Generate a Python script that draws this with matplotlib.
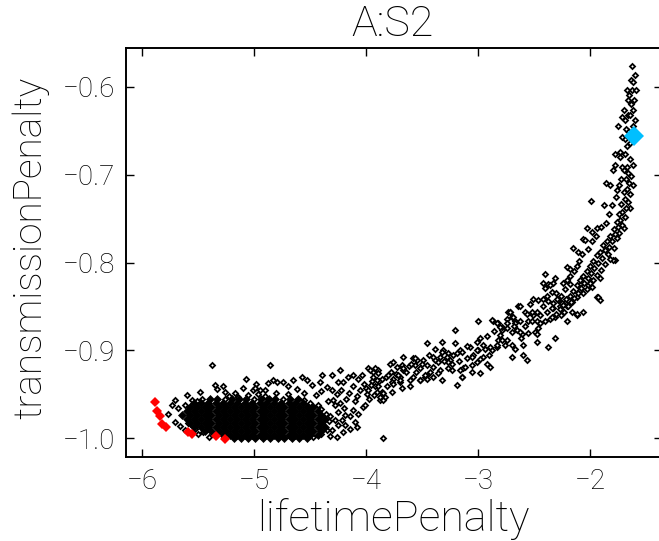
import matplotlib
matplotlib.use('Agg')
import matplotlib.pyplot as plt

plt.rcParams['font.family'] = ['Roboto', 'DejaVu Sans']
plt.rcParams['font.weight'] = 'light'

# tick positions / labels
xticks = [-6, -5, -4, -3, -2]
xtick_labels = ['\u22126', '\u22125', '\u22124', '\u22123', '\u22122']
yticks = [-1.0, -0.9, -0.8, -0.7, -0.6]
ytick_labels = ['\u22121.0', '\u22120.9', '\u22120.8', '\u22120.7', '\u22120.6']

# dense core of the cloud, one row per y level
core_rows = [
    (-0.9555, [-5.39, -5.33, -5.20, -5.13, -5.07, -4.94, -4.87, -4.81, -4.68, -4.61]),
    (-0.9600, [-5.54, -5.47, -5.41, -5.34, -5.28, -5.21, -5.15, -5.08, -5.02, -4.95, -4.89, -4.82, -4.76, -4.69, -4.63, -4.56]),
    (-0.9645, [-5.57, -5.51, -5.44, -5.38, -5.31, -5.25, -5.18, -5.12, -5.05, -4.99, -4.92, -4.86, -4.79, -4.73, -4.66, -4.60, -4.53, -4.47]),
    (-0.9690, [-5.60, -5.54, -5.47, -5.41, -5.34, -5.28, -5.21, -5.15, -5.08, -5.02, -4.95, -4.89, -4.82, -4.76, -4.69, -4.63, -4.56, -4.50, -4.43]),
    (-0.9735, [-5.64, -5.57, -5.51, -5.44, -5.38, -5.31, -5.25, -5.18, -5.12, -5.05, -4.99, -4.92, -4.86, -4.79, -4.73, -4.66, -4.60, -4.53, -4.47, -4.40]),
    (-0.9780, [-5.60, -5.54, -5.47, -5.41, -5.34, -5.28, -5.21, -5.15, -5.08, -5.02, -4.95, -4.89, -4.82, -4.76, -4.69, -4.63, -4.56, -4.50, -4.43, -4.37]),
    (-0.9825, [-5.57, -5.51, -5.44, -5.38, -5.31, -5.25, -5.18, -5.12, -5.05, -4.99, -4.92, -4.86, -4.79, -4.73, -4.66, -4.60, -4.53, -4.47, -4.40]),
    (-0.9870, [-5.54, -5.47, -5.41, -5.34, -5.28, -5.21, -5.15, -5.08, -5.02, -4.95, -4.89, -4.82, -4.76, -4.69, -4.63, -4.56, -4.50, -4.43, -4.37]),
    (-0.9915, [-5.44, -5.38, -5.31, -5.25, -5.18, -5.12, -5.05, -4.99, -4.92, -4.86, -4.79, -4.73, -4.66, -4.60, -4.53, -4.47, -4.40]),
    (-0.9960, [-5.34, -5.28, -5.21, -5.15, -5.08, -5.02, -4.95, -4.89, -4.82, -4.76, -4.69, -4.63, -4.56, -4.50, -4.43]),
    (-0.9995, [-5.18, -5.12, -5.05, -4.99, -4.92, -4.86, -4.79, -4.73, -4.66, -4.60, -4.53]),
]

# sparse points around the core
cloud_low = [
    (-5.765, -0.972), (-5.735, -0.962), (-5.705, -0.956), (-5.705, -0.981), (-5.676, -0.966),
    (-5.601, -0.951), (-5.556, -0.956), (-5.512, -0.958), (-5.482, -0.947), (-5.378, -0.917),
    (-5.348, -0.939), (-5.330, -0.944), (-5.259, -0.947), (-5.170, -0.949), (-5.096, -0.943),
    (-5.074, -0.932), (-5.006, -0.945), (-5.408, -0.960), (-5.587, -0.983), (-5.527, -0.989),
    (-5.453, -0.993), (-5.220, -0.952), (-5.140, -0.953), (-5.050, -0.951), (-4.960, -0.950),
    (-4.900, -0.952), (-4.800, -0.948), (-4.700, -0.950), (-4.620, -0.944), (-4.550, -0.948),
    (-4.450, -0.951), (-4.700, -0.940), (-5.280, -0.940), (-4.980, -0.938),
    (-5.46, -0.955), (-5.26, -0.955), (-5.00, -0.955), (-4.74, -0.955), (-4.55, -0.956),
    (-4.50, -0.960), (-4.43, -0.962), (-4.40, -0.967), (-4.36, -0.972), (-5.62, -0.962),
    (-5.66, -0.986), (-5.62, -0.990), (-5.50, -0.995), (-5.40, -0.998), (-4.47, -0.999),
    (-4.40, -0.995), (-4.35, -0.990), (-4.33, -0.980),
    (-4.857, -0.917), (-4.991, -0.943), (-4.946, -0.945), (-4.902, -0.945), (-4.872, -0.937),
    (-4.827, -0.934), (-4.798, -0.936), (-4.738, -0.936), (-4.649, -0.934), (-4.574, -0.930),
    (-4.530, -0.934), (-4.485, -0.939), (-4.411, -0.936), (-4.396, -0.928), (-4.307, -0.928),
    (-4.232, -0.922), (-4.247, -0.936), (-4.202, -0.936), (-4.158, -0.930), (-4.113, -0.928),
    (-4.068, -0.932), (-4.039, -0.928), (-3.979, -0.920), (-3.935, -0.924), (-3.890, -0.922),
    (-4.336, -0.958), (-4.292, -0.956), (-4.232, -0.960), (-4.247, -0.970), (-4.321, -0.975),
    (-4.277, -0.979), (-4.217, -0.979), (-4.188, -0.974), (-4.143, -0.975), (-4.113, -0.968),
    (-4.068, -0.972), (-4.024, -0.964), (-4.009, -0.962), (-4.247, -0.985), (-4.188, -0.985),
    (-4.202, -0.993), (-4.143, -0.989), (-4.098, -0.981), (-4.083, -0.987), (-4.300, -0.990),
    (-4.320, -0.997), (-4.260, -0.998), (-3.845, -1.000),
    (-4.30, -0.945), (-4.26, -0.950), (-4.22, -0.945), (-4.18, -0.955), (-4.15, -0.948),
    (-4.12, -0.940), (-4.08, -0.952), (-4.05, -0.945), (-4.02, -0.938), (-3.99, -0.950),
    (-4.35, -0.942), (-4.40, -0.946), (-4.28, -0.962), (-4.20, -0.966), (-4.10, -0.958),
    (-4.00, -0.943),
]

cloud_mid = [
    (-3.950, -0.935), (-3.920, -0.940), (-3.980, -0.945), (-3.930, -0.951), (-3.900, -0.947),
    (-3.970, -0.955), (-3.880, -0.935), (-3.820, -0.930), (-3.780, -0.924), (-3.730, -0.927),
    (-3.700, -0.930), (-3.640, -0.925), (-3.620, -0.918),
    (-3.964, -0.922), (-3.920, -0.920), (-3.890, -0.926), (-3.935, -0.930), (-3.905, -0.934),
    (-3.860, -0.932), (-3.955, -0.939), (-3.890, -0.941), (-3.860, -0.947), (-3.830, -0.953),
    (-3.875, -0.956), (-3.845, -0.956), (-3.786, -0.915), (-3.756, -0.913), (-3.726, -0.919),
    (-3.681, -0.917), (-3.667, -0.922), (-3.711, -0.928), (-3.756, -0.932), (-3.801, -0.928),
    (-3.771, -0.936), (-3.696, -0.936), (-3.681, -0.943), (-3.607, -0.941), (-3.771, -0.947),
    (-3.667, -0.907), (-3.578, -0.909), (-3.562, -0.917), (-3.518, -0.920), (-3.548, -0.911),
    (-3.488, -0.911), (-3.473, -0.930), (-3.518, -0.934), (-3.458, -0.928), (-3.429, -0.924),
    (-3.400, -0.919), (-3.384, -0.911), (-3.339, -0.907), (-3.324, -0.890), (-3.310, -0.900),
    (-3.265, -0.903), (-3.250, -0.911), (-3.205, -0.892), (-3.190, -0.903), (-3.161, -0.900),
    (-3.235, -0.922), (-3.190, -0.939), (-3.146, -0.930), (-3.131, -0.920), (-3.101, -0.909),
    (-3.056, -0.917), (-3.012, -0.913), (-2.997, -0.900), (-2.982, -0.886), (-2.938, -0.898),
    (-2.923, -0.884), (-2.878, -0.900), (-2.833, -0.896), (-2.818, -0.888), (-2.789, -0.877),
    (-2.863, -0.866), (-2.818, -0.869), (-2.744, -0.864), (-2.729, -0.856), (-2.759, -0.894),
    (-2.997, -0.867), (-3.205, -0.877), (-3.458, -0.892),
    (-3.324, -0.902), (-3.280, -0.907), (-3.265, -0.913), (-3.235, -0.915), (-3.400, -0.907),
    (-3.354, -0.913), (-3.339, -0.922), (-3.265, -0.920), (-3.354, -0.926), (-3.400, -0.930),
    (-3.324, -0.934), (-3.458, -0.932), (-3.518, -0.934), (-3.473, -0.928), (-3.578, -0.930),
    (-3.607, -0.934), (-3.696, -0.934), (-3.756, -0.938), (-3.815, -0.941), (-3.845, -0.949),
    (-3.875, -0.953), (-3.667, -0.920), (-3.562, -0.909), (-3.458, -0.917),
    (-3.146, -0.902), (-3.071, -0.896), (-3.012, -0.900), (-3.042, -0.905), (-2.953, -0.907),
    (-2.923, -0.915), (-2.893, -0.919), (-2.982, -0.926), (-3.056, -0.924), (-3.116, -0.919),
    (-3.161, -0.922), (-3.146, -0.930), (-3.012, -0.890), (-2.953, -0.894), (-2.893, -0.896),
    (-2.833, -0.894), (-2.789, -0.888), (-2.744, -0.888), (-2.699, -0.894), (-2.670, -0.898),
    (-2.595, -0.894), (-2.595, -0.905), (-2.565, -0.911), (-2.699, -0.907),
    (-3.60, -0.915), (-3.55, -0.925), (-3.50, -0.915), (-3.44, -0.905), (-3.38, -0.898),
    (-3.30, -0.912), (-3.22, -0.905), (-3.17, -0.912), (-3.10, -0.895), (-3.05, -0.907),
    (-2.98, -0.910), (-2.90, -0.905),
]

cloud_high = [
    (-2.878, -0.865), (-2.833, -0.869), (-2.789, -0.873), (-2.714, -0.856), (-2.699, -0.862),
    (-2.670, -0.867), (-2.625, -0.867), (-2.551, -0.866), (-2.521, -0.867), (-2.476, -0.866),
    (-2.446, -0.869), (-2.402, -0.867), (-2.357, -0.864), (-2.313, -0.862),
    (-2.699, -0.879), (-2.655, -0.877), (-2.610, -0.881), (-2.491, -0.879), (-2.476, -0.890),
    (-2.372, -0.896), (-2.313, -0.886), (-2.804, -0.873), (-2.744, -0.869), (-2.670, -0.869),
    (-2.625, -0.879), (-2.476, -0.881), (-2.640, -0.850), (-2.580, -0.856), (-2.536, -0.847),
    (-2.476, -0.856), (-2.446, -0.860), (-2.387, -0.856), (-2.327, -0.852), (-2.268, -0.850),
    (-2.208, -0.867), (-2.119, -0.860), (-2.060, -0.856), (-2.625, -0.850), (-2.714, -0.856),
    (-2.685, -0.862), (-2.565, -0.858), (-2.506, -0.860), (-2.164, -0.856), (-2.119, -0.858),
    (-2.506, -0.842), (-2.460, -0.843), (-2.417, -0.842), (-2.372, -0.844), (-2.327, -0.846),
    (-2.283, -0.843), (-2.223, -0.846), (-2.402, -0.829), (-2.342, -0.834), (-2.298, -0.841),
    (-2.253, -0.846), (-2.208, -0.850), (-2.164, -0.845), (-2.119, -0.839), (-2.089, -0.831),
    (-1.940, -0.839), (-1.911, -0.843), (-2.417, -0.823), (-2.372, -0.824), (-2.327, -0.823),
    (-2.238, -0.823), (-2.179, -0.824), (-2.089, -0.825), (-2.015, -0.826), (-2.000, -0.823),
    (-2.208, -0.805), (-2.179, -0.807), (-2.119, -0.804), (-2.402, -0.813), (-2.313, -0.818),
    (-1.911, -0.818), (-2.357, -0.826), (-2.208, -0.820), (-2.030, -0.761), (-1.985, -0.765),
    (-1.940, -0.761), (-2.060, -0.773), (-2.045, -0.774), (-2.155, -0.784), (-2.104, -0.788),
    (-1.777, -0.797), (-1.994, -0.730), (-1.875, -0.735), (-1.857, -0.709), (-1.821, -0.712),
    (-1.762, -0.718), (-1.643, -0.738), (-1.700, -0.761), (-1.792, -0.797), (-1.926, -0.839),
    (-1.985, -0.828), (-2.060, -0.835),
    (-2.86, -0.878), (-2.80, -0.882), (-2.74, -0.875), (-2.68, -0.872), (-2.62, -0.886),
    (-2.58, -0.872), (-2.55, -0.880), (-2.52, -0.856), (-2.46, -0.874), (-2.42, -0.850),
    (-2.38, -0.838), (-2.34, -0.852), (-2.30, -0.835), (-2.26, -0.838), (-2.22, -0.830),
    (-2.18, -0.815), (-2.14, -0.810), (-2.10, -0.798), (-2.07, -0.790), (-2.02, -0.785),
    (-1.98, -0.775), (-1.95, -0.770), (-1.90, -0.760), (-1.86, -0.755), (-1.83, -0.745),
    (-1.80, -0.735), (-1.77, -0.725), (-1.74, -0.712), (-1.72, -0.705), (-1.70, -0.695),
    (-1.73, -0.680), (-1.69, -0.660), (-1.66, -0.650), (-1.62, -0.645), (-1.68, -0.648),
    (-1.63, -0.620), (-1.61, -0.615),
    (-1.628, -0.577), (-1.598, -0.587), (-1.637, -0.592), (-1.620, -0.595), (-1.672, -0.604),
    (-1.628, -0.604), (-1.590, -0.604), (-1.650, -0.609), (-1.665, -0.615), (-1.700, -0.627),
    (-1.660, -0.632), (-1.616, -0.627), (-1.598, -0.638), (-1.688, -0.638), (-1.717, -0.635),
    (-1.643, -0.632), (-1.747, -0.645), (-1.717, -0.657), (-1.643, -0.664), (-1.672, -0.668),
    (-1.777, -0.676), (-1.732, -0.674), (-1.688, -0.676), (-1.643, -0.682), (-1.613, -0.689),
    (-1.777, -0.689), (-1.717, -0.691), (-1.672, -0.691), (-1.792, -0.695),
]

# the thick ridge of the upper branch
ridge = [
    (-1.66, -0.698), (-1.63, -0.702), (-1.68, -0.705), (-1.65, -0.710), (-1.62, -0.712),
    (-1.67, -0.716), (-1.70, -0.720), (-1.64, -0.722), (-1.69, -0.728), (-1.66, -0.731),
    (-1.72, -0.733), (-1.68, -0.738), (-1.71, -0.742), (-1.74, -0.745), (-1.69, -0.748),
    (-1.73, -0.752), (-1.76, -0.754), (-1.71, -0.757), (-1.75, -0.760), (-1.79, -0.762),
    (-1.74, -0.766), (-1.78, -0.768), (-1.82, -0.770), (-1.76, -0.772), (-1.80, -0.775),
    (-1.85, -0.776), (-1.88, -0.780), (-1.83, -0.782), (-1.79, -0.784), (-1.87, -0.786),
    (-1.91, -0.788), (-1.84, -0.790), (-1.94, -0.792), (-1.89, -0.795), (-1.82, -0.796),
    (-1.97, -0.798), (-1.93, -0.800), (-1.87, -0.802), (-2.00, -0.804), (-1.96, -0.806),
    (-1.90, -0.808), (-2.03, -0.810), (-1.99, -0.812), (-1.94, -0.814), (-2.06, -0.815),
    (-2.02, -0.818), (-1.97, -0.820), (-2.09, -0.820), (-2.05, -0.823), (-2.12, -0.826),
    (-2.08, -0.829), (-2.03, -0.830), (-2.15, -0.832), (-2.11, -0.835), (-2.18, -0.838),
    (-2.14, -0.840), (-2.21, -0.842), (-2.17, -0.845), (-2.24, -0.848), (-2.20, -0.850),
    (-2.27, -0.853), (-2.23, -0.856), (-2.30, -0.858), (-2.26, -0.860), (-2.34, -0.862),
]

red_x = [-5.885, -5.866, -5.840, -5.820, -5.790, -5.590, -5.550, -5.339, -5.259]
red_y = [-0.959, -0.969, -0.975, -0.984, -0.987, -0.993, -0.995, -0.997, -1.0005]

best_x = [-1.607]
best_y = [-0.656]

W, H = 659, 541
fig = plt.figure(figsize=(W / 100, H / 100), dpi=100)
ax = fig.add_axes([126 / W, 1 - 456.7 / H, 536 / W, 408.4 / H])

pts = cloud_low + cloud_mid + cloud_high + ridge
ax.plot([p[0] for p in pts], [p[1] for p in pts], 'D', ls='none',
        ms=2.6, mfc='white', mec='black', mew=1.3)
for yv, xs in core_rows:
    ax.plot(xs, [yv] * len(xs), 'D', ls='none', ms=3.9, mfc='black', mec='black', mew=0.5)
ax.plot(red_x, red_y, 'D', ls='none', ms=5.4, color='red', mew=0)
ax.plot(best_x, best_y, 'D', ls='none', ms=10.5, color='#00bfff', mew=0)

ax.set_xlim(-6.143, -1.357)
ax.set_ylim(-1.0209, -0.5563)
ax.set_xticks(xticks)
ax.set_xticklabels(xtick_labels)
ax.set_yticks(yticks)
ax.set_yticklabels(ytick_labels)
ax.tick_params(direction='in', length=5.8, width=1, top=True, right=True,
               labelsize=20, pad=8)
for s in ax.spines.values():
    s.set_linewidth(1.4)

fig.text(393 / W, 1 - 4 / H, 'A:S2', ha='center', va='top', fontsize=31)
fig.text(393 / W, 1 / H, 'lifetimePenalty', ha='center', va='bottom', fontsize=31)
fig.text(12 / W, 1 - 248 / H, 'transmissionPenalty', rotation=90,
         ha='left', va='center', fontsize=28)

fig.savefig('out.png', dpi=100)
